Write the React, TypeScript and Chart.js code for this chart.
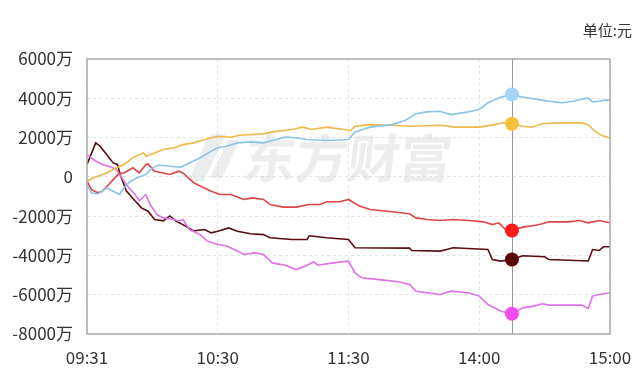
import { useEffect, useRef } from 'react';
import { Chart, registerables } from 'chart.js';

Chart.register(...registerables);

// x = trading minute since 09:30 (0 .. 240)
const xTickLabels = ['09:31', '10:30', '11:30', '14:00', '15:00'];
const unitLabel = '单位:元';
const watermark = '东方财富';
const cursorMinute = 195;

const blueMin = [0, 2, 5, 7, 9, 12, 15, 17, 20, 23, 27, 30, 33, 38, 43, 47, 52, 57, 60, 64, 69, 75, 81, 85, 91, 96, 101, 110, 120, 123, 130, 140, 146, 151, 156, 162, 167, 175, 180, 184, 190, 195, 200, 204, 210, 218, 223, 230, 232, 235, 240];
const blueVal = [-390, -810, -870, -720, -560, -730, -900, -560, -220, -50, 120, 460, 600, 540, 490, 710, 970, 1310, 1480, 1560, 1730, 1780, 1730, 1850, 2020, 1990, 1900, 1850, 1900, 2290, 2530, 2660, 2870, 3210, 3310, 3340, 3170, 3310, 3430, 3770, 4060, 4190, 4060, 3990, 3880, 3770, 3850, 4020, 3820, 3850, 3930];

const orangeMin = [0, 3, 8, 12, 17, 21, 26, 27, 31, 35, 40, 44, 49, 54, 60, 66, 70, 81, 85, 94, 99, 103, 110, 118, 121, 123, 130, 140, 148, 162, 169, 180, 187, 191, 195, 200, 204, 209, 216, 227, 230, 233, 236, 240];
const orangeVal = [-220, -50, 150, 370, 630, 970, 1220, 1050, 1220, 1390, 1480, 1640, 1730, 1900, 2070, 2020, 2120, 2190, 2290, 2410, 2530, 2410, 2530, 2410, 2360, 2580, 2660, 2630, 2580, 2630, 2530, 2530, 2660, 2750, 2700, 2580, 2530, 2700, 2750, 2750, 2660, 2330, 2120, 1980];

const redMin = [0, 2, 5, 7, 10, 12, 15, 17, 21, 24, 27, 28, 31, 35, 38, 42, 44, 49, 52, 57, 61, 66, 72, 76, 81, 84, 90, 96, 102, 107, 110, 116, 120, 125, 130, 140, 148, 151, 156, 162, 168, 175, 182, 186, 189, 192, 195, 200, 206, 209, 212, 221, 226, 230, 235, 240];
const redVal = [-200, -650, -810, -730, -390, -140, 200, 200, 460, 200, 630, 660, 290, 200, 120, 290, 200, -300, -470, -730, -900, -900, -1150, -1070, -1150, -1410, -1540, -1540, -1410, -1410, -1270, -1270, -1150, -1490, -1660, -1780, -1880, -2090, -2170, -2220, -2170, -2220, -2290, -2430, -2340, -2680, -2730, -2560, -2460, -2390, -2290, -2290, -2220, -2340, -2220, -2340];

const maroonMin = [0, 4, 6, 9, 12, 14, 15, 18, 22, 25, 28, 31, 35, 38, 41, 44, 49, 54, 57, 60, 65, 69, 75, 81, 84, 94, 101, 102, 110, 120, 123, 148, 149, 162, 165, 168, 184, 186, 190, 195, 200, 210, 212, 230, 232, 235, 237, 240];
const maroonVal = [630, 1730, 1560, 1135, 710, 630, 200, -710, -1220, -1580, -1750, -2170, -2240, -1990, -2260, -2430, -2750, -2680, -2850, -2770, -2600, -2770, -2900, -2940, -3100, -3190, -3190, -3000, -3100, -3190, -3610, -3630, -3750, -3780, -3700, -3610, -3700, -4210, -4290, -4210, -4020, -4070, -4210, -4280, -3700, -3750, -3560, -3560];

const magentaMin = [0, 2, 4, 7, 9, 12, 14, 16, 18, 22, 24, 27, 29, 32, 35, 40, 42, 44, 47, 52, 55, 60, 64, 69, 72, 77, 81, 85, 91, 96, 100, 104, 106, 113, 120, 123, 126, 133, 143, 148, 151, 162, 167, 175, 180, 184, 190, 195, 200, 205, 209, 212, 227, 230, 232, 235, 240];
const magentaVal = [1135, 970, 810, 630, 560, 460, 300, -50, -390, -900, -1220, -900, -1410, -1920, -2090, -2170, -2260, -2170, -2680, -2940, -3260, -3440, -3510, -3770, -3950, -3870, -3950, -4380, -4500, -4720, -4550, -4330, -4500, -4380, -4290, -4890, -5140, -5220, -5340, -5480, -5820, -5990, -5820, -5900, -6070, -6500, -6840, -6970, -6670, -6580, -6460, -6530, -6530, -6700, -6070, -5990, -5900];

const FONT = '"Noto Sans CJK SC", "Noto Sans", sans-serif';

function pts(m: number[], v: number[]) {
  return m.map((x, i) => ({ x, y: v[i] }));
}

function ds(label: string, m: number[], v: number[], line: string, marker: string) {
  return {
    label,
    data: pts(m, v),
    borderColor: line,
    borderWidth: 1.6,
    tension: 0,
    pointRadius: (c: any) => (c.raw && c.raw.x === cursorMinute ? 7 : 0),
    pointHoverRadius: 0,
    pointBackgroundColor: marker,
    pointBorderWidth: 0,
    fill: false,
  };
}

const decor = {
  id: 'decor',
  beforeDatasetsDraw(chart: any) {
    const { ctx, chartArea } = chart;
    // watermark
    ctx.save();
    ctx.fillStyle = 'rgba(205,208,214,0.38)';
    ctx.beginPath();
    ctx.moveTo(210, 134);
    ctx.lineTo(226, 134);
    ctx.lineTo(204, 181);
    ctx.lineTo(188, 181);
    ctx.closePath();
    ctx.fill();
    ctx.beginPath();
    ctx.moveTo(228, 140);
    ctx.lineTo(240, 140);
    ctx.lineTo(222, 178);
    ctx.lineTo(210, 178);
    ctx.closePath();
    ctx.fill();
    ctx.translate(244, 158);
    ctx.transform(1, 0, -0.12, 1, 0, 0);
    ctx.font = 'bold 52px ' + FONT;
    ctx.textBaseline = 'middle';
    ctx.textAlign = 'left';
    ctx.fillText(watermark, 0, 0);
    ctx.restore();
    // cursor line
    const x = chart.scales.x.getPixelForValue(cursorMinute);
    ctx.save();
    ctx.strokeStyle = '#9a9a9a';
    ctx.lineWidth = 1;
    ctx.beginPath();
    ctx.moveTo(Math.round(x) + 0.5, chartArea.top);
    ctx.lineTo(Math.round(x) + 0.5, chartArea.bottom);
    ctx.stroke();
    ctx.restore();
  },
  afterDraw(chart: any) {
    const { ctx, chartArea } = chart;
    ctx.save();
    ctx.strokeStyle = '#aaaaaa';
    ctx.lineWidth = 1.5;
    ctx.strokeRect(chartArea.left, chartArea.top, chartArea.right - chartArea.left, chartArea.bottom - chartArea.top);
    ctx.fillStyle = '#333333';
    ctx.font = '15px ' + FONT;
    ctx.textAlign = 'right';
    ctx.textBaseline = 'middle';
    ctx.fillText(unitLabel, 632, 30);
    ctx.restore();
  },
};

export default function App() {
  const ref = useRef<HTMLCanvasElement>(null);
  useEffect(() => {
    document.body.style.margin = '0';
    const chart = new Chart(ref.current as HTMLCanvasElement, {
      type: 'line',
      data: {
        datasets: [
          ds('blue', blueMin, blueVal, '#8cc4e6', '#a6d6f6'),
          ds('orange', orangeMin, orangeVal, '#f0b84a', '#f4c040'),
          ds('red', redMin, redVal, '#e04444', '#ff1a1a'),
          ds('magenta', magentaMin, magentaVal, '#e070e6', '#f04cf0'),
          ds('maroon', maroonMin, maroonVal, '#5c0c10', '#5a0404'),
        ] as any,
      },
      options: {
        animation: false,
        responsive: false,
        events: [],
        layout: { padding: { left: 0, right: 30, top: 59, bottom: 0 } },
        plugins: { legend: { display: false }, tooltip: { enabled: false }, title: { display: false } },
        scales: {
          x: {
            type: 'linear',
            min: 0,
            max: 240,
            border: { display: false, dash: [3, 3] },
            grid: { color: '#e4e4e4', drawTicks: false, lineWidth: 1 },
            ticks: {
              stepSize: 60,
              autoSkip: false,
              maxRotation: 0,
              padding: 13,
              color: '#333333',
              font: { family: FONT, size: 17 },
              callback: (v: any) => xTickLabels[Math.round(Number(v) / 60)] ?? '',
            },
            afterFit: (s: any) => {
              s.height = 46;
              s.paddingLeft = 0;
              s.paddingRight = 0;
            },
          },
          y: {
            min: -8000,
            max: 6000,
            border: { display: false, dash: [3, 3] },
            grid: { color: '#e4e4e4', drawTicks: false, lineWidth: 1 },
            ticks: {
              stepSize: 2000,
              padding: 14,
              color: '#333333',
              font: { family: FONT, size: 17 },
              callback: (v: any) => (Number(v) === 0 ? '0' : v + '万'),
            },
            afterFit: (s: any) => {
              s.width = 87;
            },
          },
        },
      },
      plugins: [decor],
    });
    return () => chart.destroy();
  }, []);
  return (
    <div style={{ width: 640, height: 380, background: '#fff' }}>
      <canvas ref={ref} width={640} height={380} />
    </div>
  );
}
